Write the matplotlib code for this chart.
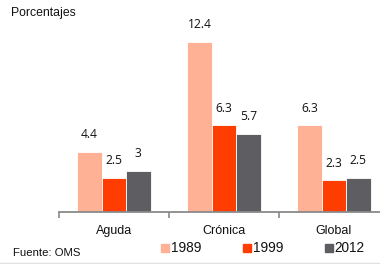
import matplotlib
matplotlib.use("Agg")
import matplotlib.pyplot as plt
from matplotlib.patches import Rectangle
import numpy as np

categories = ["Aguda", "Crónica", "Global"]
series_names = ["1989", "1999", "2012"]
v1989 = [4.4, 12.4, 6.3]
v1999 = [2.5, 6.3, 2.3]
v2012 = [3, 5.7, 2.5]
label_texts = [["4.4", "12.4", "6.3"], ["2.5", "6.3", "2.3"], ["3", "5.7", "2.5"]]
colors = ["#FFB196", "#FF3D00", "#5E5D62"]

W, H = 380, 264
fig = plt.figure(figsize=(W / 100, H / 100), dpi=100)

x0, x1 = 59, 389
ybase = 212
pxu = 13.75
ymax = 14.0
top = ybase - ymax * pxu
ax = fig.add_axes([x0 / W, 1 - ybase / H, (x1 - x0) / W, (ybase - top) / H])
ax.set_xlim(0, 3)
ax.set_ylim(0, ymax)

xc = np.arange(len(categories)) + 0.5
bw = 0.222
allvals = [v1989, v1999, v2012]
for i, (vals, col) in enumerate(zip(allvals, colors)):
    xs = xc + (i - 1) * bw
    ax.bar(xs, vals, width=bw, color=col, edgecolor="white", linewidth=0.6, zorder=2)
    for xx, v, t in zip(xs, vals, label_texts[i]):
        ax.text(xx, v + 17 / pxu, t, ha="center", va="center", fontsize=8.7,
                family="Open Sans", color="#111111")

for s in ["top", "right", "left"]:
    ax.spines[s].set_visible(False)
ax.spines["bottom"].set_color("#8a8a8a")
ax.spines["bottom"].set_linewidth(1.3)
ax.set_yticks([])
ax.set_xticks([0, 1, 2, 3])
ax.set_xticklabels([])
ax.tick_params(axis="x", length=4, width=1.2, color="#8a8a8a", direction="out")
for xx, c in zip(xc, categories):
    ax.text(xx, -19 / pxu, c, ha="center", va="center", fontsize=9,
            family="Liberation Sans", color="#111111")

fig.text(11 / W, 1 - 13 / H, "Porcentajes", ha="left", va="center", fontsize=8.8,
         family="Liberation Sans", color="#111111")
fig.text(13 / W, 1 - 253 / H, "Fuente: OMS", ha="left", va="center", fontsize=8.2,
         family="Liberation Sans", color="#111111")

leg_x = [161, 243, 325]
for lx, name, col in zip(leg_x, series_names, colors):
    fig.patches.append(Rectangle((lx / W, 1 - 252 / H), 8 / W, 8 / H,
                                 transform=fig.transFigure, color=col))
    fig.text((lx + 9.5) / W, 1 - 247.5 / H, name, ha="left", va="center", fontsize=9.8,
             family="Liberation Sans", color="#111111")

fig.patches.append(Rectangle((0, 0), 1, 1.5 / H, transform=fig.transFigure,
                             color="#e0e0e0"))

fig.savefig("out.png", dpi=100)
